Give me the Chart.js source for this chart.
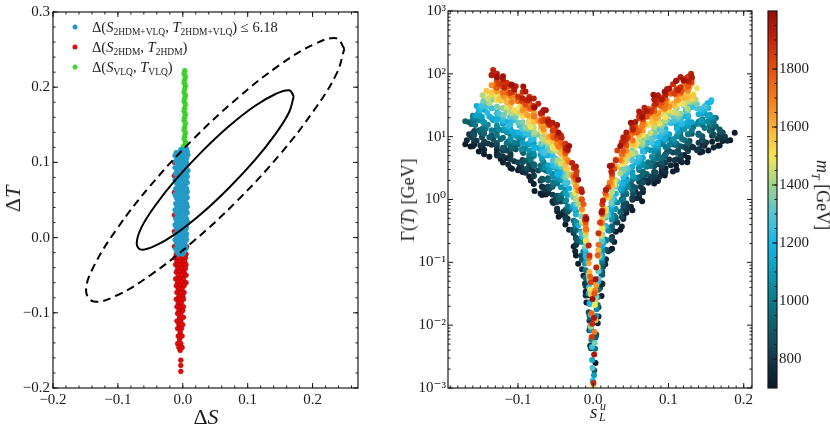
<!DOCTYPE html>
<html>
<head>
<meta charset="utf-8">
<script src="https://cdn.jsdelivr.net/npm/chart.js@4.4.0/dist/chart.umd.min.js"></script>
<style>
body { margin: 0; background: #fff; }
#wrap { position: relative; width: 830px; height: 432px; overflow: hidden; font-family: 'Liberation Serif', 'DejaVu Serif', serif; color: #1a1a1a; }
.box { position: absolute; top: 0; height: 432px; }
.lbl { position: absolute; white-space: nowrap; line-height: 1; }
.rot { transform: translate(-50%, -50%) rotate(-90deg); }
.rot90 { transform: translate(-50%, -50%) rotate(90deg); }
.ctr { transform: translate(-50%, -50%); }
.leg { position: absolute; left: 92px; font-size: 14.5px; white-space: nowrap; transform: translateY(-50%); line-height: 1; }
.leg sub { font-size: 9.5px; vertical-align: -3px; line-height: 0; }
.dot { position: absolute; width: 5px; height: 5px; border-radius: 50%; transform: translate(-50%, -50%); }
</style>
</head>
<body>
<div id="wrap">
  <div class="box" style="left:0;width:380px"><canvas id="chartST"></canvas></div>
  <div class="box" style="left:395px;width:365px"><canvas id="chartWidth"></canvas></div>
  <div class="box" style="left:760px;width:70px"><canvas id="chartMass"></canvas></div>

  <span class="dot" id="dot0" style="left:75px;top:27px"></span>
  <span class="dot" id="dot1" style="left:75px;top:47px"></span>
  <span class="dot" id="dot2" style="left:75px;top:67px"></span>
  <div class="leg" style="top:27px">&Delta;(<i>S</i><sub>2HDM+VLQ</sub>, <i>T</i><sub>2HDM+VLQ</sub>) &le; 6.18</div>
  <div class="leg" style="top:47px">&Delta;(<i>S</i><sub>2HDM</sub>, <i>T</i><sub>2HDM</sub>)</div>
  <div class="leg" style="top:67px">&Delta;(<i>S</i><sub>VLQ</sub>, <i>T</i><sub>VLQ</sub>)</div>

  <div class="lbl rot" style="left:13px;top:199px;font-size:22px">&Delta;<i>T</i></div>
  <div class="lbl ctr" style="left:206px;top:417px;font-size:22px">&Delta;<i>S</i></div>
  <div class="lbl rot" style="left:408px;top:200px;font-size:18px">&Gamma;(<i>T</i>) [GeV]</div>
  <div class="lbl" style="left:590px;top:402px;font-size:19px"><i>s</i></div>
  <div class="lbl" style="left:600px;top:400px;font-size:12px"><i>u</i></div>
  <div class="lbl" style="left:599px;top:411px;font-size:12px"><i>L</i></div>
  <div class="lbl rot90" style="left:821px;top:195px;font-size:18px"><i>m</i><sub style="font-size:12px"><i>T</i></sub> [GeV]</div>
</div>

<script>
// ---------- painel 1 : parâmetros oblíquos ----------
const stTicksX = [-0.2, -0.1, 0.0, 0.1, 0.2];
const stTicksY = [-0.2, -0.1, 0.0, 0.1, 0.2, 0.3];

// Delta(S,T) 2HDM+VLQ (azul)
const pointsBoth = [
  [-0.003,0.117],[0.002,0.117],[0.006,0.118],
  [-0.010,0.113],[-0.005,0.113],[0.001,0.113],[0.007,0.114],
  [-0.012,0.109],[-0.007,0.109],[-0.002,0.109],[0.004,0.109],[0.008,0.110],
  [-0.009,0.105],[-0.004,0.105],[0.002,0.105],[0.006,0.105],
  [-0.011,0.101],[-0.006,0.101],[0.000,0.101],[0.005,0.101],
  [-0.008,0.097],[-0.003,0.097],[0.003,0.097],[0.007,0.097],
  [-0.012,0.093],[-0.005,0.093],[0.001,0.093],[0.005,0.093],
  [-0.009,0.089],[-0.002,0.089],[0.004,0.089],[0.008,0.089],
  [-0.011,0.085],[-0.006,0.085],[0.000,0.085],[0.006,0.085],
  [-0.008,0.081],[-0.003,0.081],[0.002,0.081],[0.007,0.081],
  [-0.012,0.077],[-0.005,0.077],[0.001,0.077],[0.005,0.077],
  [-0.010,0.073],[-0.004,0.073],[0.003,0.073],[0.007,0.073],
  [-0.008,0.069],[-0.002,0.069],[0.004,0.069],
  [-0.011,0.065],[-0.006,0.065],[0.000,0.065],[0.006,0.065],
  [-0.009,0.061],[-0.003,0.061],[0.002,0.061],[0.007,0.061],
  [-0.012,0.057],[-0.005,0.057],[0.001,0.057],[0.005,0.057],
  [-0.010,0.053],[-0.004,0.053],[0.003,0.053],[0.007,0.053],
  [-0.008,0.049],[-0.002,0.049],[0.004,0.049],
  [-0.011,0.045],[-0.006,0.045],[0.000,0.045],[0.006,0.045],
  [-0.009,0.041],[-0.003,0.041],[0.002,0.041],[0.007,0.041],
  [-0.012,0.037],[-0.005,0.037],[0.001,0.037],[0.005,0.037],
  [-0.010,0.033],[-0.004,0.033],[0.003,0.033],[0.007,0.033],
  [-0.008,0.029],[-0.002,0.029],[0.004,0.029],
  [-0.011,0.025],[-0.006,0.025],[0.000,0.025],[0.006,0.025],
  [-0.009,0.021],[-0.003,0.021],[0.002,0.021],[0.007,0.021],
  [-0.012,0.017],[-0.005,0.017],[0.001,0.017],[0.005,0.017],
  [-0.010,0.013],[-0.004,0.013],[0.003,0.013],[0.006,0.013],
  [-0.008,0.009],[-0.002,0.009],[0.004,0.009],
  [-0.011,0.005],[-0.006,0.005],[0.000,0.005],[0.006,0.005],
  [-0.009,0.001],[-0.003,0.001],[0.002,0.001],[0.005,0.001],
  [-0.012,-0.003],[-0.005,-0.003],[0.001,-0.003],[0.006,-0.003],
  [-0.010,-0.007],[-0.004,-0.007],[0.003,-0.007],
  [-0.008,-0.011],[-0.002,-0.011],[0.004,-0.011],
  [-0.011,-0.015],[-0.006,-0.015],[0.000,-0.015],[0.005,-0.015],
  [-0.009,-0.019],[-0.003,-0.019],[0.002,-0.019],
  [-0.006,-0.022],[0.000,-0.022]
];

// Delta(S,T) só 2HDM (vermelho)
const points2HDM = [
  [-0.013,0.100],[-0.013,0.082],[-0.013,0.060],[-0.013,0.030],[-0.013,0.008],
  [0.007,0.020],[0.006,-0.012],[-0.013,-0.012],
  [-0.010,-0.022],[-0.004,-0.022],[0.002,-0.022],[0.005,-0.022],
  [-0.012,-0.027],[-0.007,-0.027],[-0.001,-0.027],[0.004,-0.027],
  [-0.009,-0.032],[-0.003,-0.032],[0.003,-0.032],
  [-0.011,-0.036],[-0.005,-0.036],[0.001,-0.036],[0.005,-0.036],
  [-0.008,-0.041],[-0.002,-0.041],[0.004,-0.041],
  [-0.010,-0.046],[-0.004,-0.046],[0.002,-0.046],
  [-0.007,-0.050],[-0.001,-0.050],[0.005,-0.050],
  [-0.011,-0.055],[-0.005,-0.055],[0.001,-0.055],
  [-0.008,-0.059],[-0.002,-0.059],[0.005,-0.060],
  [-0.010,-0.064],[-0.004,-0.064],[0.002,-0.064],
  [-0.007,-0.068],[-0.001,-0.068],
  [-0.009,-0.073],[-0.003,-0.073],[0.002,-0.073],
  [-0.006,-0.078],[0.000,-0.078],
  [-0.010,-0.082],[-0.004,-0.082],[0.001,-0.082],
  [-0.007,-0.087],[-0.002,-0.087],
  [-0.009,-0.092],[-0.003,-0.092],[0.001,-0.092],
  [-0.006,-0.097],[0.000,-0.097],
  [-0.008,-0.101],[-0.003,-0.101],
  [-0.005,-0.106],[0.001,-0.106],
  [-0.009,-0.111],[-0.003,-0.111],
  [-0.006,-0.116],[0.000,-0.116],
  [-0.008,-0.121],[-0.002,-0.121],
  [-0.004,-0.126],
  [-0.007,-0.131],[-0.001,-0.131],
  [-0.005,-0.136],
  [-0.008,-0.141],[-0.003,-0.141],
  [-0.006,-0.146],[-0.001,-0.146],
  [-0.004,-0.150],
  [-0.003,-0.163],[-0.003,-0.170],[-0.003,-0.178]
];

// Delta(S,T) só VLQ (verde)
const pointsVLQ = [
  [0.003,0.222],[0.002,0.218],[0.004,0.214],[0.003,0.210],[0.002,0.206],[0.004,0.202],
  [0.003,0.198],[0.002,0.193],[0.004,0.189],[0.003,0.185],[0.002,0.181],[0.004,0.177],
  [0.003,0.172],[0.002,0.168],[0.004,0.164],[0.003,0.160],[0.002,0.156],[0.004,0.152],
  [0.003,0.147],[0.002,0.143],[0.004,0.139],[0.003,0.135],[0.002,0.131],[0.004,0.127],
  [0.003,0.123],[0.002,0.119],[0.005,0.125],[0.001,0.121]
];

const contourInner = [
  [0.171,0.188],[0.164,0.196],[0.143,0.191],[0.111,0.175],[0.071,0.148],[0.029,0.114],
  [-0.011,0.077],[-0.043,0.042],[-0.064,0.013],[-0.071,-0.008],[-0.064,-0.016],[-0.043,-0.011],
  [-0.011,0.005],[0.029,0.032],[0.071,0.066],[0.111,0.103],[0.143,0.138],[0.164,0.167],[0.171,0.188]
];
const contourOuter = [
  [0.249,0.251],[0.237,0.265],[0.202,0.257],[0.150,0.230],[0.085,0.186],[0.015,0.130],
  [-0.050,0.069],[-0.102,0.011],[-0.137,-0.038],[-0.149,-0.071],[-0.137,-0.085],[-0.102,-0.077],
  [-0.050,-0.050],[0.015,-0.006],[0.085,0.050],[0.150,0.111],[0.202,0.169],[0.237,0.218],[0.249,0.251]
];

// ---------- painel 2 : largura de T contra s_L^u, cor = m_T ----------
const widthTicksX = [-0.1, 0.0, 0.1, 0.2];
const widthTicksY = [1e-3, 1e-2, 1e-1, 1, 10, 100, 1000];
const widthTickLabels = ['10\u207B\u00B3', '10\u207B\u00B2', '10\u207B\u00B9', '10\u2070', '10\u00B9', '10\u00B2', '10\u00B3'];

// [s_L^u, Gamma (GeV), m_T (GeV)]
const throat = [
  [0.0003,0.0012,1900],[0.0005,0.0011,1500],[-0.0005,0.0013,1200],[0.001,0.0016,1100],[-0.001,0.0021,1300],
  [0.0015,0.0019,900],[-0.0015,0.0028,1150],[0.0012,0.0034,1950],[-0.0018,0.0045,1250],[0.002,0.0052,1350],
  [-0.002,0.0065,1850],[0.0025,0.0042,980],[-0.0025,0.0058,1050],[0.0018,0.0078,1700],[-0.003,0.0095,1400],
  [0.0028,0.012,1600],[-0.0035,0.0087,1100],[0.0035,0.0068,800],[-0.0012,0.0105,1900],[0.001,0.013,1950],
  [-0.0022,0.0155,1750],[0.0022,0.021,1500],[-0.0045,0.0135,950],[0.0045,0.018,1050],[-0.001,0.026,1980],
  [0.0015,0.032,1800],[-0.005,0.022,880],[0.006,0.028,950],[-0.0055,0.04,1250],[0.0065,0.055,1300],[-0.007,0.03,760]
];

const leftWing = [
  [-0.009,0.023,710],[-0.020,0.095,710],[-0.032,0.33,710],[-0.046,0.53,710],[-0.063,1.2,710],[-0.078,1.36,710],[-0.093,2.9,710],[-0.108,3.1,710],[-0.123,4.4,710],[-0.138,4.8,710],[-0.152,5.8,710],[-0.163,7.0,710],[-0.170,7.6,710],
  [-0.004,0.0047,750],[-0.013,0.061,750],[-0.024,0.15,750],[-0.040,0.63,750],[-0.053,0.88,750],[-0.068,1.6,750],[-0.083,2.0,750],[-0.098,3.2,750],[-0.113,3.6,750],[-0.128,6.2,750],[-0.145,6.2,750],[-0.158,8.2,750],[-0.168,8.8,750],
  [-0.003,0.0043,800],[-0.011,0.046,800],[-0.022,0.20,800],[-0.036,0.47,800],[-0.050,1.0,800],[-0.065,1.43,800],[-0.080,2.9,800],[-0.095,3.2,800],[-0.110,5.3,800],[-0.125,5.0,800],[-0.140,7.8,800],[-0.155,8.6,800],[-0.165,10.9,800],
  [-0.006,0.016,860],[-0.016,0.127,860],[-0.028,0.33,860],[-0.042,1.0,860],[-0.058,1.5,860],[-0.073,2.9,860],[-0.088,3.1,860],[-0.103,6.3,860],[-0.118,6.6,860],[-0.133,9.2,860],[-0.148,9.8,860],[-0.160,11.4,860],
  [-0.009,0.057,920],[-0.020,0.22,920],[-0.032,0.68,920],[-0.046,1.03,920],[-0.063,2.9,920],[-0.078,3.5,920],[-0.093,5.5,920],[-0.108,6.4,920],[-0.123,9.2,920],[-0.138,9.8,920],[-0.152,12.6,920],[-0.162,15.9,920],[-0.170,17.6,920],
  [-0.004,0.0094,980],[-0.013,0.149,980],[-0.024,0.40,980],[-0.040,1.23,980],[-0.053,1.86,980],[-0.068,3.4,980],[-0.083,4.3,980],[-0.098,8.1,980],[-0.113,8.4,980],[-0.128,13.2,980],[-0.143,13.5,980],[-0.157,15.4,980],
  [-0.003,0.0083,1040],[-0.011,0.096,1040],[-0.022,0.42,1040],[-0.036,0.97,1040],[-0.050,2.5,1040],[-0.065,3.3,1040],[-0.080,6.2,1040],[-0.095,6.3,1040],[-0.110,12.7,1040],[-0.125,13.0,1040],[-0.140,15.5,1040],[-0.152,18.2,1040],[-0.160,21,1040],
  [-0.006,0.032,1100],[-0.016,0.31,1100],[-0.028,0.73,1100],[-0.042,2.0,1100],[-0.058,2.8,1100],[-0.073,6.6,1100],[-0.088,7.6,1100],[-0.103,11.6,1100],[-0.118,13.0,1100],[-0.133,18.4,1100],[-0.148,20.5,1100],[-0.156,21.5,1100],
  [-0.009,0.109,1160],[-0.020,0.39,1160],[-0.032,1.5,1160],[-0.046,2.45,1160],[-0.063,5.1,1160],[-0.078,6.7,1160],[-0.093,10.5,1160],[-0.108,12.1,1160],[-0.123,21.2,1160],[-0.138,20.9,1160],[-0.150,27,1160],[-0.155,30.7,1160],
  [-0.004,0.022,1220],[-0.013,0.25,1220],[-0.024,0.73,1220],[-0.040,2.3,1220],[-0.053,3.4,1220],[-0.068,7.5,1220],[-0.083,8.8,1220],[-0.098,15,1220],[-0.113,14.5,1220],[-0.128,27.8,1220],[-0.141,24,1220],[-0.150,28.7,1220],
  [-0.003,0.0147,1280],[-0.011,0.168,1280],[-0.022,0.91,1280],[-0.036,1.9,1280],[-0.050,4.5,1280],[-0.065,5.5,1280],[-0.080,12.6,1280],[-0.095,14,1280],[-0.110,20.8,1280],[-0.125,23,1280],[-0.140,30.5,1280],[-0.148,32,1280],
  [-0.006,0.062,1350],[-0.016,0.54,1350],[-0.028,1.2,1350],[-0.042,4.1,1350],[-0.058,6.1,1350],[-0.073,10.7,1350],[-0.088,13.4,1350],[-0.103,20.4,1350],[-0.118,22.7,1350],[-0.133,39,1350],[-0.146,36.8,1350],
  [-0.009,0.22,1420],[-0.020,0.85,1420],[-0.032,2.4,1420],[-0.046,4.25,1420],[-0.063,8.9,1420],[-0.078,11.5,1420],[-0.093,22.2,1420],[-0.108,23.4,1420],[-0.123,37.2,1420],[-0.138,34,1420],[-0.147,45.8,1420],
  [-0.004,0.037,1490],[-0.013,0.44,1490],[-0.024,1.26,1490],[-0.040,4.7,1490],[-0.053,6.5,1490],[-0.068,13.1,1490],[-0.083,14.2,1490],[-0.098,29.7,1490],[-0.113,31.3,1490],[-0.128,44.4,1490],[-0.141,51,1490],
  [-0.003,0.031,1560],[-0.011,0.32,1560],[-0.022,1.58,1560],[-0.036,3.1,1560],[-0.050,8.9,1560],[-0.065,11.9,1560],[-0.080,19.9,1560],[-0.095,24,1560],[-0.110,35.8,1560],[-0.125,39.3,1560],[-0.135,51,1560],[-0.142,53.7,1560],
  [-0.006,0.097,1630],[-0.016,1.04,1630],[-0.028,2.5,1630],[-0.042,6.3,1630],[-0.058,10.2,1630],[-0.073,18,1630],[-0.088,22.2,1630],[-0.103,41.2,1630],[-0.118,42.3,1630],[-0.133,65.7,1630],
  [-0.009,0.33,1700],[-0.020,1.38,1700],[-0.032,3.9,1700],[-0.046,6.9,1700],[-0.063,17.5,1700],[-0.078,21,1700],[-0.093,36.5,1700],[-0.108,35.7,1700],[-0.123,69.6,1700],[-0.130,61.5,1700],
  [-0.004,0.059,1770],[-0.013,0.84,1770],[-0.024,2.24,1770],[-0.040,7.6,1770],[-0.053,9.7,1770],[-0.068,24,1770],[-0.083,28.3,1770],[-0.098,43.6,1770],[-0.113,49.7,1770],[-0.128,70.8,1770],
  [-0.003,0.048,1840],[-0.011,0.47,1840],[-0.022,2.8,1840],[-0.036,6.0,1840],[-0.050,12.8,1840],[-0.065,18.5,1840],[-0.080,31.1,1840],[-0.095,37.3,1840],[-0.110,67.6,1840],[-0.125,68.3,1840],
  [-0.006,0.186,1910],[-0.016,1.46,1910],[-0.028,3.8,1910],[-0.042,9.6,1910],[-0.058,15.5,1910],[-0.073,33.3,1910],[-0.088,37.9,1910],[-0.103,63.4,1910],[-0.118,60.5,1910],[-0.133,115,1910],
  [-0.009,0.49,1980],[-0.020,2.06,1980],[-0.032,7.1,1980],[-0.046,11.5,1980],[-0.063,26.4,1980],[-0.078,29.5,1980],[-0.093,62.8,1980],[-0.108,67,1980],[-0.120,91.5,1980],[-0.128,89,1980]
];

const leftWingFill = [
  [-0.005,0.0083,730],[-0.026,0.178,730],[-0.043,0.572,730],[-0.048,0.65,730],[-0.060,1.27,730],[-0.070,1.25,730],[-0.085,2.32,730],[-0.100,2.91,730],[-0.115,4.53,730],[-0.120,3.89,730],[-0.148,6.64,730],[-0.160,7.07,730],
  [-0.015,0.0775,780],[-0.034,0.496,780],[-0.048,0.716,780],[-0.060,1.41,780],[-0.066,1.55,780],[-0.085,3.02,780],[-0.090,2.67,780],[-0.105,4.08,780],[-0.120,4.85,780],[-0.135,7.42,780],[-0.150,7.25,780],[-0.162,9.91,780],
  [-0.005,0.0118,830],[-0.026,0.289,830],[-0.043,0.932,830],[-0.048,0.915,830],[-0.060,1.61,830],[-0.070,1.99,830],[-0.085,3.54,830],[-0.100,3.88,830],[-0.115,6.02,830],[-0.120,5.97,830],[-0.148,11.3,830],[-0.160,9.59,830],
  [-0.015,0.11,890],[-0.034,0.636,890],[-0.048,1.15,890],[-0.060,2.18,890],[-0.066,2.08,890],[-0.085,4.05,890],[-0.090,4.14,890],[-0.105,7.03,890],[-0.120,6.65,890],[-0.135,10.6,890],[-0.150,11.9,890],[-0.165,16.9,890],
  [-0.005,0.0145,950],[-0.026,0.461,950],[-0.043,1.15,950],[-0.048,1.79,950],[-0.060,2.02,950],[-0.070,3.47,950],[-0.085,4.64,950],[-0.100,7.56,950],[-0.115,7.87,950],[-0.120,9.63,950],[-0.148,13.3,950],[-0.158,18.4,950],
  [-0.015,0.21,1010],[-0.034,0.78,1010],[-0.048,1.96,1010],[-0.060,2.78,1010],[-0.066,3.96,1010],[-0.085,5.17,1010],[-0.090,6.51,1010],[-0.105,8.06,1010],[-0.120,12.7,1010],[-0.135,12.6,1010],[-0.148,18.0,1010],[-0.160,19.1,1010],
  [-0.005,0.0229,1070],[-0.026,0.73,1070],[-0.043,1.57,1070],[-0.048,2.2,1070],[-0.060,3.13,1070],[-0.070,5.15,1070],[-0.085,6.01,1070],[-0.100,9.75,1070],[-0.115,11.8,1070],[-0.120,16.0,1070],[-0.145,16.9,1070],[-0.152,23.4,1070],
  [-0.015,0.253,1130],[-0.034,1.18,1130],[-0.048,2.85,1130],[-0.060,3.52,1130],[-0.066,5.0,1130],[-0.085,7.56,1130],[-0.090,10.6,1130],[-0.105,10.4,1130],[-0.120,17.2,1130],[-0.135,19.7,1130],[-0.145,26.7,1130],[-0.153,23.4,1130],
  [-0.005,0.0335,1190],[-0.026,0.827,1190],[-0.043,2.82,1190],[-0.048,2.55,1190],[-0.060,5.02,1190],[-0.070,6.19,1190],[-0.085,10.7,1190],[-0.100,11.7,1190],[-0.115,17.4,1190],[-0.120,17.2,1190],[-0.143,29.6,1190],[-0.152,26.4,1190],
  [-0.015,0.288,1250],[-0.034,1.87,1250],[-0.048,3.37,1250],[-0.060,6.2,1250],[-0.066,5.9,1250],[-0.085,11.0,1250],[-0.090,11.2,1250],[-0.105,18.5,1250],[-0.120,19.1,1250],[-0.135,28.3,1250],[-0.146,30.2,1250],
  [-0.005,0.0507,1320],[-0.026,1.08,1320],[-0.043,3.32,1320],[-0.048,3.76,1320],[-0.060,7.1,1320],[-0.070,7.65,1320],[-0.085,13.2,1320],[-0.100,16.7,1320],[-0.115,27.5,1320],[-0.120,21.7,1320],[-0.140,37.3,1320],
  [-0.015,0.424,1385],[-0.034,2.63,1385],[-0.048,4.15,1385],[-0.060,7.61,1385],[-0.066,8.39,1385],[-0.085,17.4,1385],[-0.090,14.1,1385],[-0.105,24.2,1385],[-0.120,28.6,1385],[-0.135,42.7,1385],
  [-0.005,0.0559,1455],[-0.026,1.88,1455],[-0.043,3.73,1455],[-0.048,5.87,1455],[-0.060,8.3,1455],[-0.070,13.3,1455],[-0.085,15.5,1455],[-0.100,24.0,1455],[-0.115,28.9,1455],[-0.120,38.1,1455],[-0.140,41.0,1455],
  [-0.015,0.66,1525],[-0.034,3.07,1525],[-0.048,7.2,1525],[-0.060,8.86,1525],[-0.066,12.0,1525],[-0.085,18.2,1525],[-0.090,24.6,1525],[-0.105,26.5,1525],[-0.120,40.6,1525],[-0.135,46.9,1525],
  [-0.005,0.0704,1595],[-0.026,2.14,1595],[-0.043,5.33,1595],[-0.048,8.02,1595],[-0.060,9.91,1595],[-0.070,15.8,1595],[-0.085,21.3,1595],[-0.100,36.7,1595],[-0.115,35.2,1595],[-0.120,48.3,1595],
  [-0.015,0.705,1665],[-0.034,4.24,1665],[-0.048,7.71,1665],[-0.060,15.0,1665],[-0.066,13.2,1665],[-0.085,27.6,1665],[-0.090,28.0,1665],[-0.105,44.8,1665],[-0.120,46.1,1665],[-0.135,65.6,1665],
  [-0.005,0.118,1735],[-0.026,2.31,1735],[-0.043,7.98,1735],[-0.048,9.01,1735],[-0.060,16.6,1735],[-0.070,17.8,1735],[-0.085,29.4,1735],[-0.100,37.1,1735],[-0.115,59.3,1735],[-0.120,51.0,1735],
  [-0.015,0.991,1805],[-0.034,5.99,1805],[-0.048,9.41,1805],[-0.060,16.5,1805],[-0.066,18.2,1805],[-0.085,36.5,1805],[-0.090,32.3,1805],[-0.105,51.6,1805],[-0.120,61.4,1805],[-0.135,97.0,1805],
  [-0.005,0.129,1875],[-0.026,3.16,1875],[-0.043,10.5,1875],[-0.048,10.3,1875],[-0.060,18.9,1875],[-0.070,23.4,1875],[-0.085,43.1,1875],[-0.100,43.2,1875],[-0.115,72.1,1875],[-0.120,71.1,1875],
  [-0.015,1.32,1945],[-0.034,6.17,1945],[-0.048,15.3,1945],[-0.060,17.4,1945],[-0.066,26.5,1945],[-0.085,39.8,1945],[-0.090,52.5,1945],[-0.105,56.3,1945],[-0.120,82.6,1945],[-0.135,95.2,1945]
];

const leftWingMore = [
  [-0.010,0.0341,720],[-0.023,0.128,720],[-0.037,0.399,720],[-0.054,0.934,720],[-0.068,1.18,720],[-0.079,1.76,720],[-0.094,2.75,720],[-0.110,3.17,720],[-0.128,5.44,720],[-0.145,5.26,720],[-0.158,7.49,720],
  [-0.010,0.0296,770],[-0.023,0.188,770],[-0.037,0.536,770],[-0.054,0.914,770],[-0.068,1.6,770],[-0.079,2.38,770],[-0.094,2.83,770],[-0.110,4.91,770],[-0.128,5.02,770],[-0.145,7.71,770],[-0.158,8.36,770],
  [-0.010,0.0422,815],[-0.023,0.246,815],[-0.037,0.509,815],[-0.054,1.19,815],[-0.068,2.09,815],[-0.079,2.37,815],[-0.094,4.25,815],[-0.110,4.39,815],[-0.128,7.12,815],[-0.145,8.34,815],[-0.158,12.3,815],
  [-0.010,0.0565,870],[-0.023,0.239,870],[-0.037,0.682,870],[-0.054,1.6,870],[-0.068,2.14,870],[-0.079,3.65,870],[-0.094,3.9,870],[-0.110,6.4,870],[-0.128,7.91,870],[-0.145,12.6,870],[-0.158,10.6,870],
  [-0.010,0.0561,935],[-0.023,0.327,935],[-0.037,0.934,935],[-0.054,1.67,935],[-0.068,3.36,935],[-0.079,3.42,935],[-0.094,5.8,935],[-0.110,7.25,935],[-0.128,12.2,935],[-0.145,11.1,935],[-0.160,16.3,935],
  [-0.010,0.0745,995],[-0.023,0.435,995],[-0.037,0.947,995],[-0.054,2.55,995],[-0.068,3.06,995],[-0.079,4.94,995],[-0.094,6.38,995],[-0.110,10.9,995],[-0.128,10.4,995],[-0.145,16.2,995],[-0.160,21.6,995],
  [-0.010,0.098,1055],[-0.023,0.436,1055],[-0.037,1.43,1055],[-0.054,2.3,1055],[-0.068,4.36,1055],[-0.079,5.37,1055],[-0.094,9.47,1055],[-0.110,9.2,1055],[-0.128,15.0,1055],[-0.148,18.1,1055],
  [-0.010,0.0973,1115],[-0.023,0.652,1115],[-0.037,1.27,1115],[-0.054,3.25,1115],[-0.068,4.7,1115],[-0.079,7.89,1115],[-0.094,7.93,1115],[-0.110,13.1,1115],[-0.128,19.5,1115],[-0.150,21.4,1115],
  [-0.010,0.144,1175],[-0.023,0.576,1175],[-0.037,1.78,1175],[-0.054,3.47,1175],[-0.068,6.84,1175],[-0.079,6.55,1175],[-0.094,11.2,1175],[-0.110,16.8,1175],[-0.128,18.2,1175],[-0.152,28.3,1175],
  [-0.010,0.126,1235],[-0.023,0.80,1235],[-0.037,1.89,1235],[-0.054,5.01,1235],[-0.068,5.64,1235],[-0.079,9.17,1235],[-0.094,14.3,1235],[-0.110,15.6,1235],[-0.128,23.3,1235],[-0.146,32.2,1235],
  [-0.010,0.177,1300],[-0.023,0.852,1300],[-0.037,2.75,1300],[-0.054,4.15,1300],[-0.068,7.93,1300],[-0.079,11.8,1300],[-0.094,13.3,1300],[-0.110,20.1,1300],[-0.128,30.0,1300],
  [-0.010,0.186,1365],[-0.023,1.23,1365],[-0.037,2.25,1365],[-0.054,5.79,1365],[-0.068,10.1,1365],[-0.079,10.9,1365],[-0.094,17.0,1365],[-0.110,25.7,1365],[-0.128,29.3,1365],
  [-0.010,0.27,1435],[-0.023,1.01,1435],[-0.037,3.16,1435],[-0.054,7.39,1435],[-0.068,9.38,1435],[-0.079,14.0,1435],[-0.094,21.8,1435],[-0.110,25.1,1435],[-0.128,43.1,1435],
  [-0.010,0.221,1505],[-0.023,1.41,1505],[-0.037,4.0,1505],[-0.054,6.82,1505],[-0.068,11.9,1505],[-0.079,17.8,1505],[-0.094,21.1,1505],[-0.110,36.7,1505],[-0.128,37.5,1505],
  [-0.010,0.305,1575],[-0.023,1.77,1575],[-0.037,3.67,1575],[-0.054,8.62,1575],[-0.068,15.1,1575],[-0.079,17.1,1575],[-0.094,30.7,1575],[-0.110,31.7,1575],[-0.128,51.4,1575],
  [-0.010,0.382,1645],[-0.023,1.62,1645],[-0.037,4.61,1645],[-0.054,10.8,1645],[-0.068,14.4,1645],[-0.079,24.7,1645],[-0.094,26.4,1645],[-0.110,43.3,1645],[-0.128,53.5,1645],
  [-0.010,0.346,1715],[-0.023,2.02,1715],[-0.037,5.76,1715],[-0.054,10.3,1715],[-0.068,20.7,1715],[-0.079,21.1,1715],[-0.094,35.8,1715],[-0.110,44.7,1715],[-0.128,75.4,1715],
  [-0.010,0.43,1785],[-0.023,2.51,1785],[-0.037,5.47,1785],[-0.054,14.7,1785],[-0.068,17.6,1785],[-0.079,28.5,1785],[-0.094,36.8,1785],[-0.110,62.8,1785],[-0.128,60.3,1785],
  [-0.010,0.533,1855],[-0.023,2.37,1855],[-0.037,7.77,1855],[-0.054,12.5,1855],[-0.068,23.7,1855],[-0.079,29.2,1855],[-0.094,51.5,1855],[-0.110,50.0,1855],[-0.128,81.6,1855],
  [-0.010,0.501,1925],[-0.023,3.36,1925],[-0.037,6.55,1925],[-0.054,16.7,1925],[-0.068,24.2,1925],[-0.079,40.6,1925],[-0.094,40.8,1925],[-0.110,67.3,1925],[-0.128,100,1925]
];

const rightWing = [
  [0.003,0.0025,710],[0.011,0.029,710],[0.022,0.155,710],[0.036,0.33,710],[0.050,0.77,710],[0.065,0.94,710],[0.080,2.1,710],[0.095,2.4,710],[0.110,3.5,710],[0.125,3.9,710],[0.142,5.6,710],[0.153,6.0,710],[0.166,7.2,710],[0.182,8.8,710],[0.188,11.5,710],
  [0.006,0.0107,750],[0.016,0.093,750],[0.028,0.21,750],[0.042,0.70,750],[0.058,1.05,750],[0.073,1.84,750],[0.088,2.3,750],[0.103,3.5,750],[0.118,3.9,750],[0.133,6.7,750],[0.148,7.2,750],[0.160,6.7,750],[0.178,8.6,750],
  [0.009,0.039,800],[0.020,0.15,800],[0.032,0.43,800],[0.046,0.76,800],[0.063,1.6,800],[0.078,2.1,800],[0.093,4.0,800],[0.108,4.2,800],[0.123,6.6,800],[0.138,6.1,800],[0.150,8.1,800],[0.165,9.2,800],[0.175,10.1,800],
  [0.004,0.0071,860],[0.013,0.084,860],[0.024,0.24,860],[0.040,0.91,860],[0.053,1.25,860],[0.068,2.5,860],[0.083,2.7,860],[0.098,5.7,860],[0.113,6.0,860],[0.128,8.5,860],[0.145,8.9,860],[0.160,10.8,860],[0.170,11.7,860],
  [0.003,0.0063,920],[0.011,0.066,920],[0.022,0.32,920],[0.036,0.63,920],[0.050,1.8,920],[0.065,2.4,920],[0.080,4.1,920],[0.095,4.9,920],[0.110,7.4,920],[0.125,8.1,920],[0.140,10.7,920],[0.155,12.4,920],[0.163,14.5,920],
  [0.006,0.021,980],[0.016,0.23,980],[0.028,0.55,980],[0.042,1.36,980],[0.058,2.2,980],[0.073,3.9,980],[0.088,4.8,980],[0.103,9.0,980],[0.118,9.2,980],[0.133,14.3,980],[0.148,13.7,980],[0.160,16.9,980],
  [0.009,0.075,1040],[0.020,0.32,1040],[0.032,0.90,1040],[0.046,1.58,1040],[0.063,4.0,1040],[0.078,4.8,1040],[0.093,8.3,1040],[0.108,8.2,1040],[0.123,15.9,1040],[0.138,15.9,1040],[0.152,17.2,1040],[0.160,20,1040],
  [0.004,0.014,1100],[0.013,0.20,1100],[0.024,0.54,1100],[0.040,1.83,1100],[0.053,2.3,1100],[0.068,5.8,1100],[0.083,6.8,1100],[0.098,10.5,1100],[0.113,11.9,1100],[0.128,17,1100],[0.143,18,1100],[0.155,22.4,1100],
  [0.003,0.012,1160],[0.011,0.118,1160],[0.022,0.71,1160],[0.036,1.5,1160],[0.050,3.2,1160],[0.065,4.6,1160],[0.080,7.8,1160],[0.095,9.3,1160],[0.110,17,1160],[0.125,17.1,1160],[0.140,22.7,1160],[0.153,28.5,1160],[0.156,35.5,1160],
  [0.006,0.048,1220],[0.016,0.38,1220],[0.028,1.0,1220],[0.042,2.5,1220],[0.058,4.0,1220],[0.073,8.7,1220],[0.088,9.9,1220],[0.103,16.5,1220],[0.118,15.8,1220],[0.133,30,1220],[0.145,28,1220],[0.157,38,1220],
  [0.009,0.13,1280],[0.020,0.56,1280],[0.032,1.93,1280],[0.046,3.1,1280],[0.063,7.1,1280],[0.078,8.0,1280],[0.093,17,1280],[0.108,18.1,1280],[0.123,26,1280],[0.138,28,1280],[0.148,30.5,1280],
  [0.004,0.028,1350],[0.013,0.36,1350],[0.024,0.88,1350],[0.040,3.7,1350],[0.053,5.1,1350],[0.068,9.3,1350],[0.083,11.9,1350],[0.098,18.4,1350],[0.113,20.8,1350],[0.128,36,1350],[0.138,33,1350],
  [0.003,0.024,1420],[0.011,0.26,1420],[0.022,1.13,1420],[0.036,2.6,1420],[0.050,5.6,1420],[0.065,8.0,1420],[0.080,16.4,1420],[0.095,18.1,1420],[0.110,29.7,1420],[0.125,27.9,1420],[0.136,39,1420],
  [0.006,0.084,1490],[0.016,0.66,1490],[0.028,1.72,1490],[0.042,5.2,1490],[0.058,7.8,1490],[0.073,15.1,1490],[0.088,16,1490],[0.103,32.8,1490],[0.118,34.1,1490],[0.133,47.9,1490],[0.138,59,1490],
  [0.009,0.28,1560],[0.020,1.07,1560],[0.032,3.3,1560],[0.046,5.0,1560],[0.063,14.1,1560],[0.078,17.1,1560],[0.093,26.9,1560],[0.108,31.1,1560],[0.123,44.8,1560],[0.133,44.5,1560],
  [0.004,0.043,1630],[0.013,0.69,1630],[0.024,1.85,1630],[0.040,5.7,1630],[0.053,8.5,1630],[0.068,15.6,1630],[0.083,19.8,1630],[0.098,37.3,1630],[0.113,38.8,1630],[0.128,60.9,1630],
  [0.003,0.036,1700],[0.011,0.42,1700],[0.022,1.86,1700],[0.036,4.2,1700],[0.050,11,1700],[0.065,14.6,1700],[0.080,27,1700],[0.095,27.7,1700],[0.110,55.6,1700],[0.125,56.9,1700],
  [0.006,0.13,1770],[0.016,1.27,1770],[0.028,3.05,1770],[0.042,8.4,1770],[0.058,11.6,1770],[0.073,27.7,1770],[0.088,31.8,1770],[0.103,48.2,1770],[0.118,54.2,1770],[0.128,70.8,1770],
  [0.009,0.43,1840],[0.020,1.56,1840],[0.032,6.0,1840],[0.046,9.8,1840],[0.063,20.3,1840],[0.078,26.6,1840],[0.093,42,1840],[0.108,48.2,1840],[0.123,84.5,1840],[0.130,74,1840],
  [0.004,0.083,1910],[0.013,0.96,1910],[0.024,2.8,1910],[0.040,8.7,1910],[0.053,13,1910],[0.068,28.9,1910],[0.083,33.7,1910],[0.098,57.4,1910],[0.113,55.5,1910],[0.130,100,1910],
  [0.003,0.054,1980],[0.011,0.62,1980],[0.022,3.4,1980],[0.036,7.1,1980],[0.050,16.6,1980],[0.065,20.5,1980],[0.080,46.5,1980],[0.095,51.9,1980],[0.110,76.9,1980],[0.120,78.5,1980]
];

const rightWingFill = [
  [0.007,0.0137,730],[0.030,0.306,730],[0.038,0.372,730],[0.044,0.617,730],[0.061,1.07,730],[0.076,2.07,730],[0.086,1.97,730],[0.091,2.71,730],[0.106,2.80,730],[0.116,4.08,730],[0.121,5.11,730],[0.145,5.74,730],[0.158,8.33,730],[0.172,8.53,730],
  [0.017,0.112,780],[0.044,0.681,780],[0.056,1.37,780],[0.061,1.21,780],[0.071,2.02,780],[0.086,2.25,780],[0.091,3.07,780],[0.101,4.34,780],[0.116,4.48,780],[0.131,6.99,780],[0.145,7.16,780],[0.158,10.3,780],[0.172,9.31,780],
  [0.007,0.0192,830],[0.030,0.434,830],[0.038,0.528,830],[0.044,0.864,830],[0.061,1.91,830],[0.076,2.32,830],[0.086,3.63,830],[0.091,3.40,830],[0.106,5.61,830],[0.116,5.10,830],[0.121,6.86,830],[0.145,8.91,830],[0.158,13.1,830],[0.172,11.6,830],
  [0.017,0.159,890],[0.044,1.22,890],[0.056,1.55,890],[0.061,2.25,890],[0.071,2.55,890],[0.086,4.56,890],[0.091,3.87,890],[0.101,5.89,890],[0.116,7.03,890],[0.131,11.1,890],[0.145,10.2,890],[0.158,14.8,890],[0.168,12.7,890],
  [0.007,0.0367,950],[0.030,0.512,950],[0.038,1.01,950],[0.044,1.23,950],[0.061,2.94,950],[0.076,3.40,950],[0.086,5.34,950],[0.091,4.54,950],[0.106,7.51,950],[0.116,10.3,950],[0.121,8.81,950],[0.145,15.5,950],[0.155,14.8,950],[0.163,19.9,950],
  [0.017,0.221,1010],[0.044,1.84,1010],[0.056,2.22,1010],[0.061,3.23,1010],[0.071,3.32,1010],[0.086,5.94,1010],[0.091,7.65,1010],[0.101,7.38,1010],[0.116,11.9,1010],[0.131,12.7,1010],[0.145,18.9,1010],[0.155,16.4,1010],
  [0.007,0.0506,1070],[0.030,0.705,1070],[0.038,1.38,1070],[0.044,2.13,1070],[0.061,3.20,1070],[0.076,6.07,1070],[0.086,6.50,1070],[0.091,8.86,1070],[0.106,9.13,1070],[0.116,13.5,1070],[0.121,13.3,1070],[0.145,23.7,1070],[0.155,20.2,1070],
  [0.017,0.374,1130],[0.044,1.96,1130],[0.056,3.88,1130],[0.061,3.85,1130],[0.071,6.35,1130],[0.086,7.07,1130],[0.091,9.78,1130],[0.101,10.9,1130],[0.116,17.9,1130],[0.131,17.0,1130],[0.145,25.5,1130],[0.152,21.3,1130],
  [0.007,0.0548,1190],[0.030,1.24,1190],[0.038,1.80,1190],[0.044,3.00,1190],[0.061,4.31,1190],[0.076,8.20,1190],[0.086,7.98,1190],[0.091,10.9,1190],[0.106,17.0,1190],[0.116,15.9,1190],[0.121,21.2,1190],[0.145,25.4,1190],[0.152,34,1190],
  [0.017,0.519,1250],[0.044,2.59,1250],[0.056,5.16,1250],[0.061,4.65,1250],[0.071,7.68,1250],[0.086,12.9,1250],[0.091,11.4,1250],[0.101,17.1,1250],[0.116,18.9,1250],[0.131,29.3,1250],[0.142,27.6,1250],
  [0.007,0.0721,1320],[0.030,1.61,1320],[0.038,2.98,1320],[0.044,3.13,1320],[0.061,7.34,1320],[0.076,9.53,1320],[0.086,14.9,1320],[0.091,12.6,1320],[0.106,21.2,1320],[0.116,22.9,1320],[0.121,31.0,1320],
  [0.017,0.551,1385],[0.044,4.49,1385],[0.056,5.52,1385],[0.061,8.10,1385],[0.071,9.92,1385],[0.086,18.1,1385],[0.091,15.1,1385],[0.101,22.8,1385],[0.116,22.9,1385],[0.131,35.6,1385],
  [0.007,0.124,1455],[0.030,2.05,1455],[0.038,4.09,1455],[0.044,4.1,1455],[0.061,9.66,1455],[0.076,11.4,1455],[0.086,17.8,1455],[0.091,22.9,1455],[0.106,24.3,1455],[0.116,35.6,1455],[0.121,32.4,1455],
  [0.017,0.703,1525],[0.044,5.78,1525],[0.056,7.11,1525],[0.061,10.3,1525],[0.071,16.0,1525],[0.086,18.4,1525],[0.091,25.2,1525],[0.101,26.0,1525],[0.116,41.7,1525],[0.131,40.3,1525],
  [0.007,0.155,1595],[0.030,3.28,1595],[0.038,4.11,1595],[0.044,6.74,1595],[0.061,10.8,1595],[0.076,20.5,1595],[0.086,19.9,1595],[0.091,27.5,1595],[0.106,33.8,1595],[0.116,50.3,1595],[0.121,40.8,1595],
  [0.017,1.17,1665],[0.044,5.92,1665],[0.056,11.9,1665],[0.061,12.7,1665],[0.071,21.4,1665],[0.086,23.4,1665],[0.091,32.2,1665],[0.101,30.1,1665],[0.116,48.4,1665],[0.131,71.0,1665],
  [0.007,0.19,1735],[0.030,4.33,1735],[0.038,5.18,1735],[0.044,8.52,1735],[0.061,12.4,1735],[0.076,23.5,1735],[0.086,34.6,1735],[0.091,30.4,1735],[0.106,50.4,1735],[0.116,50.0,1735],[0.121,66.8,1735],
  [0.017,1.43,1805],[0.044,7.28,1805],[0.056,14.4,1805],[0.061,19.6,1805],[0.071,20.8,1805],[0.086,37.3,1805],[0.091,34.9,1805],[0.101,52.4,1805],[0.116,52.5,1805],[0.131,82.7,1805],
  [0.007,0.29,1875],[0.030,4.17,1875],[0.038,8.17,1875],[0.044,9.16,1875],[0.061,21.4,1875],[0.076,25.2,1875],[0.086,39.9,1875],[0.091,40.5,1875],[0.106,68.2,1875],[0.116,60.9,1875],[0.121,81.3,1875],
  [0.017,1.41,1945],[0.044,11.7,1945],[0.056,17.1,1945],[0.061,25.2,1945],[0.071,25.5,1945],[0.086,45.8,1945],[0.091,39.0,1945],[0.101,58.5,1945],[0.116,88.8,1945],[0.131,88.6,1945]
];

const rightWingMore = [
  [0.012,0.0449,720],[0.025,0.164,720],[0.040,0.531,720],[0.052,0.677,720],[0.066,1.31,720],[0.081,1.80,720],[0.096,3.14,720],[0.111,2.98,720],[0.126,4.62,720],[0.140,6.28,720],[0.168,7.23,720],
  [0.012,0.0462,770],[0.025,0.254,770],[0.040,0.49,770],[0.052,0.992,770],[0.066,1.46,770],[0.081,2.73,770],[0.096,2.72,770],[0.111,4.39,770],[0.126,6.22,770],[0.140,6.14,770],[0.168,9.75,770],
  [0.012,0.0693,815],[0.025,0.227,815],[0.040,0.696,815],[0.052,1.07,815],[0.066,2.15,815],[0.081,2.30,815],[0.096,3.89,815],[0.111,5.72,815],[0.126,5.90,815],[0.140,8.03,815],[0.168,10.7,815],
  [0.012,0.0636,870],[0.025,0.331,870],[0.040,0.772,870],[0.052,1.62,870],[0.066,1.86,870],[0.081,3.37,870],[0.096,5.21,870],[0.111,5.57,870],[0.126,7.91,870],[0.140,10.8,870],[0.168,13.0,870],
  [0.012,0.0946,935],[0.025,0.375,935],[0.040,1.19,935],[0.052,1.43,935],[0.066,2.78,935],[0.081,4.6,935],[0.096,5.17,935],[0.111,7.62,935],[0.126,10.8,935],[0.140,11.2,935],[0.155,17.5,935],
  [0.012,0.104,995],[0.025,0.562,995],[0.040,1.02,995],[0.052,2.08,995],[0.066,3.68,995],[0.081,4.44,995],[0.096,6.87,995],[0.111,10.1,995],[0.126,11.0,995],[0.140,17.2,995],[0.155,15.9,995],
  [0.012,0.154,1055],[0.025,0.475,1055],[0.040,1.47,1055],[0.052,2.72,1055],[0.066,3.51,1055],[0.081,5.83,1055],[0.096,9.03,1055],[0.111,10.2,1055],[0.126,16.6,1055],[0.146,17.0,1055],
  [0.012,0.129,1115],[0.025,0.676,1115],[0.040,1.90,1115],[0.052,2.57,1115],[0.066,4.57,1115],[0.081,7.59,1115],[0.096,8.97,1115],[0.111,15.2,1115],[0.126,14.8,1115],[0.148,23.7,1115],
  [0.012,0.182,1175],[0.025,0.87,1175],[0.040,1.78,1175],[0.052,3.32,1175],[0.066,5.9,1175],[0.081,7.47,1175],[0.096,13.3,1175],[0.111,13.4,1175],[0.126,20.7,1175],[0.150,31.3,1175],
  [0.012,0.233,1235],[0.025,0.808,1235],[0.040,2.28,1235],[0.052,4.25,1235],[0.066,5.76,1235],[0.081,11.0,1235],[0.096,11.6,1235],[0.111,18.6,1235],[0.126,21.9,1235],[0.150,29.1,1235],
  [0.012,0.217,1300],[0.025,1.04,1300],[0.040,2.93,1300],[0.052,4.17,1300],[0.066,8.51,1300],[0.081,9.67,1300],[0.096,16.3,1300],[0.111,19.9,1300],[0.126,31.8,1300],
  [0.012,0.277,1365],[0.025,1.33,1365],[0.040,2.86,1365],[0.052,6.12,1365],[0.066,7.43,1365],[0.081,13.4,1365],[0.096,17.2,1365],[0.111,28.6,1365],[0.126,26.1,1365],
  [0.012,0.355,1435],[0.025,1.30,1435],[0.040,4.2,1435],[0.052,5.36,1435],[0.066,10.3,1435],[0.081,14.2,1435],[0.096,24.9,1435],[0.111,23.6,1435],[0.126,36.6,1435],
  [0.012,0.345,1505],[0.025,1.89,1505],[0.040,3.66,1505],[0.052,7.41,1505],[0.066,10.9,1505],[0.081,20.4,1505],[0.096,20.3,1505],[0.111,32.8,1505],[0.126,46.4,1505],
  [0.012,0.5,1575],[0.025,1.64,1575],[0.040,5.02,1575],[0.052,7.74,1575],[0.066,15.5,1575],[0.081,16.6,1575],[0.096,28.1,1575],[0.111,41.3,1575],[0.126,42.6,1575],
  [0.012,0.43,1645],[0.025,2.24,1645],[0.040,5.22,1645],[0.052,11.0,1645],[0.066,12.6,1645],[0.081,22.8,1645],[0.096,35.2,1645],[0.111,37.6,1645],[0.126,53.5,1645],
  [0.012,0.583,1715],[0.025,2.31,1715],[0.040,7.36,1715],[0.052,8.83,1715],[0.066,17.1,1715],[0.081,28.4,1715],[0.096,31.9,1715],[0.111,47.0,1715],[0.126,66.8,1715],
  [0.012,0.60,1785],[0.025,3.24,1785],[0.040,5.89,1785],[0.052,12.0,1785],[0.066,21.3,1785],[0.081,25.6,1785],[0.096,39.7,1785],[0.111,58.5,1785],[0.126,63.4,1785],
  [0.012,0.839,1855],[0.025,2.58,1855],[0.040,7.97,1855],[0.052,14.8,1855],[0.066,19.1,1855],[0.081,31.7,1855],[0.096,49.1,1855],[0.111,55.2,1855],[0.126,90.1,1855],
  [0.012,0.665,1925],[0.025,3.48,1925],[0.040,9.79,1925],[0.052,13.2,1925],[0.066,23.5,1925],[0.081,39.1,1925],[0.096,46.2,1925],[0.111,78.2,1925],[0.126,76.0,1925]
];

// barra de cores
const massRange = [700, 2000];
const massTicks = [800, 1000, 1200, 1400, 1600, 1800];
const cmapMass = [700, 800, 900, 1000, 1100, 1200, 1300, 1400, 1500, 1600, 1700, 1800, 1900, 2000];
const cmapColors = [
  [10,24,38], [20,55,72], [16,90,104], [10,122,138], [12,156,186], [22,184,232], [84,196,212],
  [160,212,140], [246,230,86], [250,176,52], [244,124,28], [228,80,14], [196,36,10], [150,12,10]
];

// cores das séries do painel 1
const corAzul = '#2196cf';
const corVermelha = '#e00a0a';
const corVerde = '#3ad92a';

Chart.defaults.font.family = "'Liberation Serif', 'DejaVu Serif', serif";
Chart.defaults.font.size = 15;
Chart.defaults.color = '#1a1a1a';
Chart.defaults.animation = false;
Chart.defaults.plugins.legend.display = false;
Chart.defaults.plugins.tooltip.enabled = false;

// cor de uma massa segundo o mapa de cores
function massColor(m) {
  for (let i = 1; i < cmapMass.length; i++) {
    if (m <= cmapMass[i]) {
      const f = Math.max(0, (m - cmapMass[i - 1]) / (cmapMass[i] - cmapMass[i - 1]));
      const a = cmapColors[i - 1], b = cmapColors[i];
      const c = a.map((v, k) => Math.round(v + (b[k] - v) * f));
      return `rgb(${c[0]},${c[1]},${c[2]})`;
    }
  }
  const c = cmapColors[cmapColors.length - 1];
  return `rgb(${c[0]},${c[1]},${c[2]})`;
}

function fmtDec(v) {
  return v.toFixed(1).replace('-', '\u2212');
}

function range(a, b, step) {
  const out = [];
  for (let v = a; v <= b + step / 10; v += step) out.push(Math.round(v * 1e6) / 1e6);
  return out;
}

// ticks para dentro, estilo matplotlib, e moldura
const insideTicks = {
  id: 'insideTicks',
  afterDraw(chart, args, opts) {
    const ctx = chart.ctx, a = chart.chartArea;
    ctx.save();
    ctx.strokeStyle = '#1a1a1a';
    ctx.lineWidth = 1;
    ctx.beginPath();
    const sides = opts.sides || ['left', 'right', 'top', 'bottom'];
    const xs = chart.scales.x, ys = chart.scales.y;
    const xMarks = (values, len) => values.forEach(v => {
      const p = xs.getPixelForValue(v);
      if (p < a.left - 0.5 || p > a.right + 0.5) return;
      if (sides.includes('bottom')) { ctx.moveTo(p, a.bottom); ctx.lineTo(p, a.bottom - len); }
      if (sides.includes('top')) { ctx.moveTo(p, a.top); ctx.lineTo(p, a.top + len); }
    });
    const yMarks = (values, len) => values.forEach(v => {
      const p = ys.getPixelForValue(v);
      if (p < a.top - 0.5 || p > a.bottom + 0.5) return;
      if (sides.includes('left')) { ctx.moveTo(a.left, p); ctx.lineTo(a.left + len, p); }
      if (sides.includes('right')) { ctx.moveTo(a.right, p); ctx.lineTo(a.right - len, p); }
    });
    if (opts.xMajor) xMarks(opts.xMajor, 5);
    if (opts.xMinor) xMarks(opts.xMinor, 2.5);
    if (opts.yMajor) yMarks(opts.yMajor, 5);
    if (opts.yMinor) yMarks(opts.yMinor, 2.5);
    ctx.stroke();
    ctx.lineWidth = 1.2;
    ctx.strokeRect(a.left, a.top, a.right - a.left, a.bottom - a.top);
    ctx.restore();
  }
};

function fixedTicks(values) {
  return function (scale) {
    scale.ticks = values.map(v => ({ value: v }));
  };
}

// ---------- gráfico 1 ----------
new Chart(document.getElementById('chartST'), {
  type: 'scatter',
  data: {
    datasets: [
      {
        label: 'contorno interno',
        data: contourInner.map(p => ({ x: p[0], y: p[1] })),
        showLine: true, tension: 0.4, borderColor: '#000', borderWidth: 2,
        pointRadius: 0, fill: false, order: 0
      },
      {
        label: 'contorno externo',
        data: contourOuter.map(p => ({ x: p[0], y: p[1] })),
        showLine: true, tension: 0.4, borderColor: '#000', borderWidth: 2, borderDash: [8, 5],
        pointRadius: 0, fill: false, order: 1
      },
      {
        label: 'Δ(S2HDM+VLQ, T2HDM+VLQ) ≤ 6.18',
        data: pointsBoth.map(p => ({ x: p[0], y: p[1] })),
        pointRadius: 2.4, pointBackgroundColor: corAzul, pointBorderColor: '#2aa5b5', pointBorderWidth: 0.6,
        order: 2
      },
      {
        label: 'Δ(S2HDM, T2HDM)',
        data: points2HDM.map(p => ({ x: p[0], y: p[1] })),
        pointRadius: 2.4, pointBackgroundColor: corVermelha, pointBorderColor: '#b80000', pointBorderWidth: 0.6,
        order: 3
      },
      {
        label: 'Δ(SVLQ, TVLQ)',
        data: pointsVLQ.map(p => ({ x: p[0], y: p[1] })),
        pointRadius: 2.4, pointBackgroundColor: corVerde, pointBorderColor: '#2cc01e', pointBorderWidth: 0.6,
        order: 4
      }
    ]
  },
  options: {
    responsive: true,
    maintainAspectRatio: false,
    layout: { padding: { top: 11, right: 22, left: 0, bottom: 0 } },
    scales: {
      x: {
        type: 'linear', min: -0.2, max: 0.27,
        afterBuildTicks: fixedTicks(stTicksX),
        afterFit: s => { s.height = 44; },
        ticks: { callback: fmtDec, maxRotation: 0, autoSkip: false, padding: 3 },
        grid: { display: false, drawTicks: false },
        border: { display: false }
      },
      y: {
        type: 'linear', min: -0.2, max: 0.3,
        afterBuildTicks: fixedTicks(stTicksY),
        afterFit: s => { s.width = 53; },
        ticks: { callback: fmtDec, autoSkip: false, padding: 3 },
        grid: { display: false, drawTicks: false },
        border: { display: false }
      }
    },
    plugins: {
      insideTicks: {
        xMajor: stTicksX, xMinor: range(-0.2, 0.26, 0.02),
        yMajor: stTicksY, yMinor: range(-0.2, 0.3, 0.02)
      }
    }
  },
  plugins: [insideTicks]
});

// marcadores da legenda
document.getElementById('dot0').style.background = corAzul;
document.getElementById('dot1').style.background = corVermelha;
document.getElementById('dot2').style.background = corVerde;

// ---------- gráfico 2 ----------
// massas maiores desenhadas por cima
const widthPoints = throat.concat(leftWing, leftWingFill, leftWingMore, rightWing, rightWingFill, rightWingMore)
  .sort((a, b) => a[2] - b[2]);
const logMinor = [];
for (let d = -3; d < 3; d++) {
  for (let k = 2; k <= 9; k++) logMinor.push(k * Math.pow(10, d));
}

new Chart(document.getElementById('chartWidth'), {
  type: 'scatter',
  data: {
    datasets: [{
      label: 'Γ(T)',
      data: widthPoints.map(p => ({ x: p[0], y: p[1] })),
      pointRadius: 3,
      pointBorderWidth: 0,
      pointBackgroundColor: widthPoints.map(p => massColor(p[2]))
    }]
  },
  options: {
    responsive: true,
    maintainAspectRatio: false,
    layout: { padding: { top: 11, right: 8, left: 0, bottom: 0 } },
    scales: {
      x: {
        type: 'linear', min: -0.193, max: 0.211,
        afterBuildTicks: fixedTicks(widthTicksX),
        afterFit: s => { s.height = 44; },
        ticks: { callback: fmtDec, maxRotation: 0, autoSkip: false, padding: 3 },
        grid: { display: false, drawTicks: false },
        border: { display: false }
      },
      y: {
        type: 'logarithmic', min: 1e-3, max: 1e3,
        afterBuildTicks: fixedTicks(widthTicksY),
        afterFit: s => { s.width = 53; },
        ticks: { callback: v => widthTickLabels[widthTicksY.indexOf(v)], autoSkip: false, padding: 2 },
        grid: { display: false, drawTicks: false },
        border: { display: false }
      }
    },
    plugins: {
      insideTicks: {
        xMajor: widthTicksX, xMinor: range(-0.19, 0.21, 0.01),
        yMajor: widthTicksY, yMinor: logMinor
      }
    }
  },
  plugins: [insideTicks]
});

// ---------- barra de cores ----------
new Chart(document.getElementById('chartMass'), {
  type: 'bar',
  data: {
    labels: ['mT'],
    datasets: [{
      data: [massRange],
      barPercentage: 1,
      categoryPercentage: 1,
      borderWidth: 0,
      borderSkipped: false,
      backgroundColor: function (context) {
        const chart = context.chart;
        const ys = chart.scales.y;
        if (!ys || !chart.chartArea) return '#888';
        const y0 = ys.getPixelForValue(massRange[0]);
        const y1 = ys.getPixelForValue(massRange[1]);
        const g = chart.ctx.createLinearGradient(0, y0, 0, y1);
        cmapMass.forEach((m, i) => {
          const c = cmapColors[i];
          g.addColorStop((m - massRange[0]) / (massRange[1] - massRange[0]), `rgb(${c[0]},${c[1]},${c[2]})`);
        });
        return g;
      }
    }]
  },
  options: {
    responsive: true,
    maintainAspectRatio: false,
    layout: { padding: { top: 11, right: 0, left: 8, bottom: 44 } },
    scales: {
      x: { display: false },
      y: {
        position: 'right', min: massRange[0], max: massRange[1],
        afterBuildTicks: fixedTicks(massTicks),
        afterFit: s => { s.width = 53; },
        ticks: { callback: v => String(v), autoSkip: false, padding: 2 },
        grid: { display: false, drawTicks: false },
        border: { display: false }
      }
    },
    plugins: {
      insideTicks: {
        sides: ['right'],
        yMajor: massTicks, yMinor: range(750, 1950, 50)
      }
    }
  },
  plugins: [insideTicks]
});
</script>
</body>
</html>
